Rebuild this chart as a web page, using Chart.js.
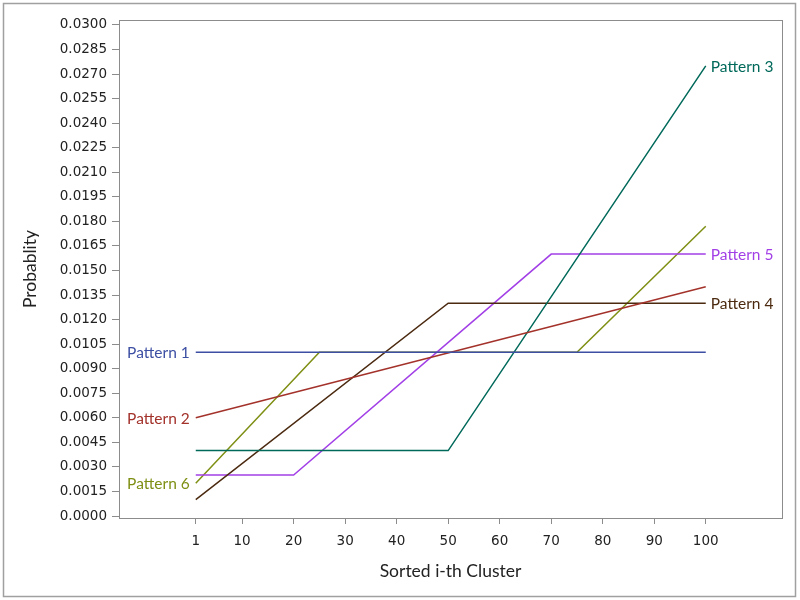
<!DOCTYPE html>
<html>
<head>
<meta charset="utf-8">
<script src="https://cdn.jsdelivr.net/npm/chart.js@4"></script>
<style>
  html, body { margin: 0; padding: 0; background: #fff; }
  #wrap { width: 800px; height: 600px; position: relative; }
</style>
</head>
<body>
<div id="wrap"><canvas id="c" width="800" height="600"></canvas></div>
<script>
// ---- data ----
const seriesNames = ["Pattern 1", "Pattern 2", "Pattern 3", "Pattern 4", "Pattern 5", "Pattern 6"];
const p1X = [1, 100];            const p1Y = [0.0100, 0.0100];
const p2X = [1, 100];            const p2Y = [0.0060, 0.0140];
const p3X = [1, 50, 100];        const p3Y = [0.0040, 0.0040, 0.0275];
const p4X = [1, 50, 100];        const p4Y = [0.0010, 0.0130, 0.0130];
const p5X = [1, 20, 70, 100];    const p5Y = [0.0025, 0.0025, 0.0160, 0.0160];
const p6X = [1, 25, 75, 100];    const p6Y = [0.0020, 0.0100, 0.0100, 0.0177];
const labelSide = ["left", "left", "right", "right", "right", "left"];
const xTicks = [1, 10, 20, 30, 40, 50, 60, 70, 80, 90, 100];
const yTicks = [];
for (let i = 0; i <= 20; i++) yTicks.push(+(i * 0.0015).toFixed(4));
const colors = ["#3d4fa3", "#a3322b", "#00695a", "#4b2a10", "#a23fe6", "#7f8f14"];

const xs = [p1X, p2X, p3X, p4X, p5X, p6X];
const ys = [p1Y, p2Y, p3Y, p4Y, p5Y, p6Y];

const datasets = seriesNames.map((name, i) => ({
  label: name,
  data: xs[i].map((x, j) => ({ x: x, y: ys[i][j] })),
  borderColor: colors[i],
  backgroundColor: colors[i],
  borderWidth: 1.5,
  pointRadius: 0,
  tension: 0,
  fill: false
}));

const frame = {
  id: 'frame',
  beforeDraw(chart) {
    const ctx = chart.ctx;
    ctx.save();
    ctx.fillStyle = '#fff';
    ctx.fillRect(0, 0, chart.width, chart.height);
    ctx.strokeStyle = '#a0a0a0';
    ctx.lineWidth = 1.5;
    ctx.strokeRect(3.5, 3.5, 792, 593);
    ctx.restore();
  },
  afterDraw(chart) {
    const ctx = chart.ctx;
    const a = chart.chartArea;
    ctx.save();
    ctx.strokeStyle = '#8c8c8c';
    ctx.lineWidth = 1;
    ctx.strokeRect(Math.round(a.left) + 0.5, Math.round(a.top) + 0.5,
                   Math.round(a.right - a.left), Math.round(a.bottom - a.top));
    // series labels
    ctx.font = '15.5px Lato';
    ctx.textBaseline = 'middle';
    chart.data.datasets.forEach((ds, i) => {
      const pts = ds.data;
      const side = labelSide[i];
      const pt = side === 'left' ? pts[0] : pts[pts.length - 1];
      const px = chart.scales.x.getPixelForValue(pt.x);
      const py = chart.scales.y.getPixelForValue(pt.y);
      ctx.fillStyle = colors[i];
      if (side === 'left') {
        ctx.textAlign = 'right';
        ctx.fillText(ds.label, px - 6, py + 1);
      } else {
        ctx.textAlign = 'left';
        ctx.fillText(ds.label, px + 5, py + 1);
      }
    });
    ctx.restore();
  }
};

new Chart(document.getElementById('c'), {
  type: 'line',
  data: { datasets: datasets },
  plugins: [frame],
  options: {
    responsive: false,
    animation: false,
    devicePixelRatio: 1,
    layout: { padding: { left: 0, top: 20, right: 18, bottom: 0 } },
    plugins: { legend: { display: false }, tooltip: { enabled: false } },
    scales: {
      x: {
        type: 'linear',
        min: -13.9,
        max: 114.8,
        afterBuildTicks: (s) => { s.ticks = xTicks.map(v => ({ value: v })); },
        afterFit: (s) => { s.height = 82; },
        ticks: {
          autoSkip: false, maxRotation: 0, padding: 9,
          color: '#222', font: { family: 'DejaVu Sans', size: 13.5 },
          callback: (v) => String(v)
        },
        grid: { drawOnChartArea: false, drawTicks: true, tickLength: 6, color: '#8c8c8c' },
        border: { display: true, color: '#8c8c8c' },
        title: {
          display: true, text: 'Sorted i-th Cluster', color: '#222',
          font: { family: 'Lato', size: 17.5 }, padding: { top: 0, bottom: 18 }
        }
      },
      y: {
        type: 'linear',
        min: -0.00012,
        max: 0.0303,
        afterBuildTicks: (s) => { s.ticks = yTicks.map(v => ({ value: v })); },
        afterFit: (s) => { s.width = 119; },
        ticks: {
          autoSkip: false, padding: 5,
          color: '#222', font: { family: 'DejaVu Sans', size: 13.5 },
          callback: (v) => Number(v).toFixed(4)
        },
        grid: { drawOnChartArea: false, drawTicks: true, tickLength: 7, color: '#8c8c8c' },
        border: { display: true, color: '#8c8c8c' },
        title: {
          display: true, text: 'Probablity', color: '#222',
          font: { family: 'Lato', size: 17.5 }, padding: { top: 20, bottom: 0 }
        }
      }
    }
  }
});
</script>
</body>
</html>
